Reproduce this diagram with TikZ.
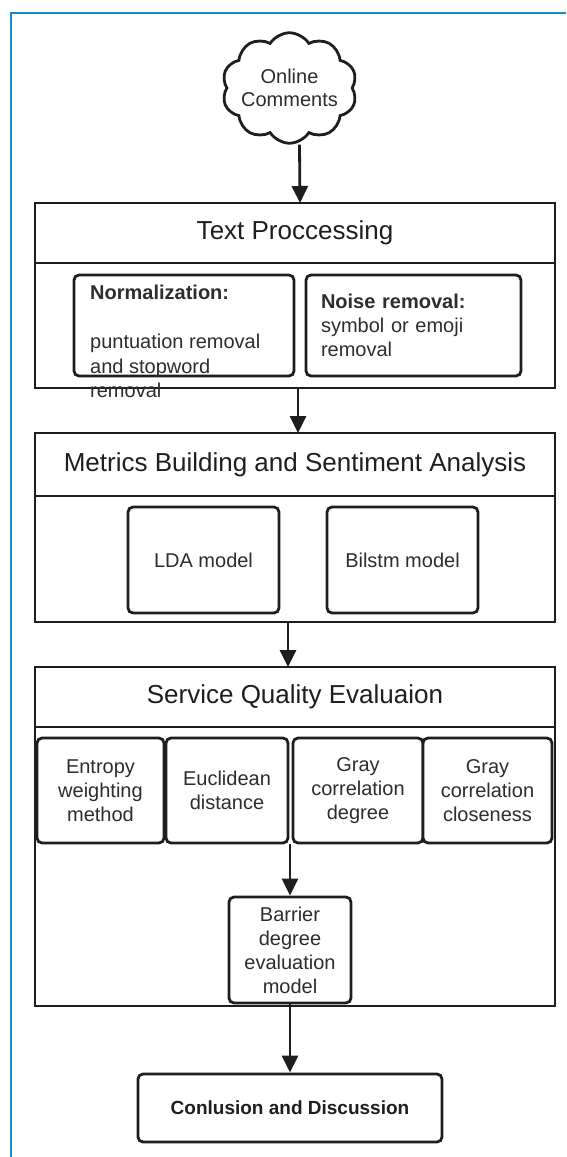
\documentclass[tikz,border=0pt]{standalone}
\usepackage{fontspec}
\setmainfont{Liberation Sans}
\usepackage{tikz}
\definecolor{frame}{RGB}{22, 140, 204}
\definecolor{ink}{RGB}{30, 30, 30}
\definecolor{textgray}{RGB}{45, 45, 45}
\usetikzlibrary{shapes.symbols, arrows.meta}

\begin{document}
\begin{tikzpicture}[x=1pt, y=-1pt,
    stage/.style={draw=ink, line width=2.8pt, minimum width=520pt, inner sep=0pt,
                  outer sep=0pt, font=\fontsize{26}{30}\selectfont, text=ink},
    panel/.style={draw=ink, line width=2.8pt, minimum width=520pt, inner sep=0pt,
                  outer sep=0pt},
    item/.style={draw=ink, line width=2.8pt, rounded corners=5pt, fill=white,
                 align=center, inner sep=0pt, font=\fontsize{20}{24}\selectfont,
                 text=textgray},
    flow/.style={-{Triangle[length=17pt, width=16pt]}, draw=ink, line width=2.8pt}
]
    \useasboundingbox (0,0) rectangle (566,1157);

    % Frame
    \draw[frame, line width=2.5pt] (566,13) -- (11,13) -- (11,1157);

    % Source
    \node[cloud, draw=ink, line width=2.8pt, fill=white, cloud puffs=10, cloud puff arc=115,
          aspect=1.3, minimum width=135pt, minimum height=105pt, inner sep=-5pt,
          align=center, font=\fontsize{20}{23}\selectfont, text=textgray]
          (comments) at (289.5,88) {Online\\Comments};

    % Text processing
    \node[stage, minimum height=60pt] (texthead) at (295,233) {Text Proccessing};
    \node[panel, minimum height=125pt] (textbody) at (295,325.5) {};
    \node[item, minimum width=220pt, minimum height=101pt] (norm) at (184,325.5) {};
    \node[anchor=north west, align=left, inner sep=0pt, font=\fontsize{20}{24.5}\selectfont,
          text=textgray] (normtext) at (90,285)
          {\textbf{Normalization:}\\[24.5pt]puntuation removal\\and stopword\\removal};
    \node[item, minimum width=215pt, minimum height=101pt, text width=185pt, align=left]
          (noise) at (413.5,325.5) {\textbf{Noise removal:}\\symbol or emoji\\removal};

    % Metrics and sentiment
    \node[stage, minimum height=63pt] (metricshead) at (295,464.5)
          {Metrics Building and Sentiment Analysis};
    \node[panel, minimum height=126pt] (metricsbody) at (295,559) {};
    \node[item, minimum width=151pt, minimum height=106pt] (lda) at (203.5,560) {LDA model};
    \node[item, minimum width=151pt, minimum height=106pt] (bilstm) at (402.5,560) {Bilstm model};

    % Service quality evaluation
    \node[stage, minimum height=60pt] (servicehead) at (295,697) {Service Quality Evaluaion};
    \node[panel, minimum height=279pt] (servicebody) at (295,866.5) {};
    \node[item, minimum width=127pt, minimum height=105pt] (entropy) at (100.5,790.5)
          {Entropy\\weighting\\method};
    \node[item, minimum width=122pt, minimum height=105pt] (euclid) at (227,790.5)
          {Euclidean\\distance};
    \node[item, minimum width=130pt, minimum height=105pt] (graydeg) at (358,790.5)
          {Gray\\correlation\\degree};
    \node[item, minimum width=129pt, minimum height=105pt] (grayclose) at (487.5,790.5)
          {Gray\\correlation\\closeness};
    \node[item, minimum width=122pt, minimum height=106pt] (barrier) at (290,950)
          {Barrier\\degree\\evaluation\\model};

    % Result
    \node[item, minimum width=304pt, minimum height=68pt, text=ink,
          font=\fontsize{19}{23}\selectfont\bfseries] (conclusion) at (290,1108)
          {Conlusion and Discussion};

    % Connecting arrows
    \draw[flow] ([xshift=10pt]comments.south) -- ([xshift=5pt]texthead.north);
    \draw[flow] ([xshift=3pt]textbody.south) -- ([xshift=3pt]metricshead.north);
    \draw[flow] ([xshift=-7pt]metricsbody.south) -- ([xshift=-7pt]servicehead.north);
    \draw[flow] (barrier.north |- euclid.south) -- (barrier.north);
    \draw[flow] (barrier.south) -- (conclusion.north);
\end{tikzpicture}
\end{document}
